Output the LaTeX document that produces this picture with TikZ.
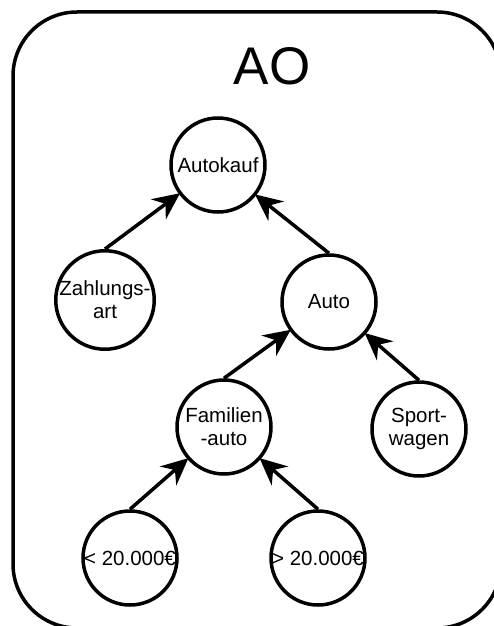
\documentclass[tikz,border=0pt]{standalone}
\usepackage{fontspec}
\setmainfont{Liberation Sans}
\usetikzlibrary{arrows.meta}
\begin{document}
\begin{tikzpicture}[x=1pt,y=-1pt,
  concept/.style={circle,draw,line width=3.5pt,minimum size=94pt,inner sep=0pt,
    align=center,font=\fontsize{20.5}{23}\selectfont},
  link/.style={line width=3.5pt,shorten >=-1.5pt,
    -{Stealth[length=27pt,width=25pt,inset=9pt]}},
  frame/.style={line width=3.5pt,rounded corners=64pt}]
\useasboundingbox (0,0) rectangle (494,626);
% outer frame, partly running off the page
\begin{scope}
  \clip (0,0) rectangle (494,626);
  \draw[frame] (13,12) rectangle (501,628);
\end{scope}
\node[font=\fontsize{53}{60}\selectfont] (title) at (272,66) {AO};
% concept tree
\node[concept] (ak) at (218,165) {Autokauf};
\node[concept] (za) at (105,300) {Zahlungs-\\art};
\node[concept] (au) at (329,302) {Auto};
\node[concept] (fa) at (224,427) {Familien\\-auto};
\node[concept] (sw) at (419,429) {Sport-\\wagen};
\node[concept] (lo) at (130,558) {< 20.000€};
\node[concept] (hi) at (318,558) {> 20.000€};
% edges point from child to parent
\draw[link] (za.north) -- (ak);
\draw[link] (au.north) -- (ak);
\draw[link] (fa.north) -- (au);
\draw[link] (sw.north) -- (au);
\draw[link] (lo.north) -- (fa);
\draw[link] (hi.north) -- (fa);
\end{tikzpicture}
\end{document}
